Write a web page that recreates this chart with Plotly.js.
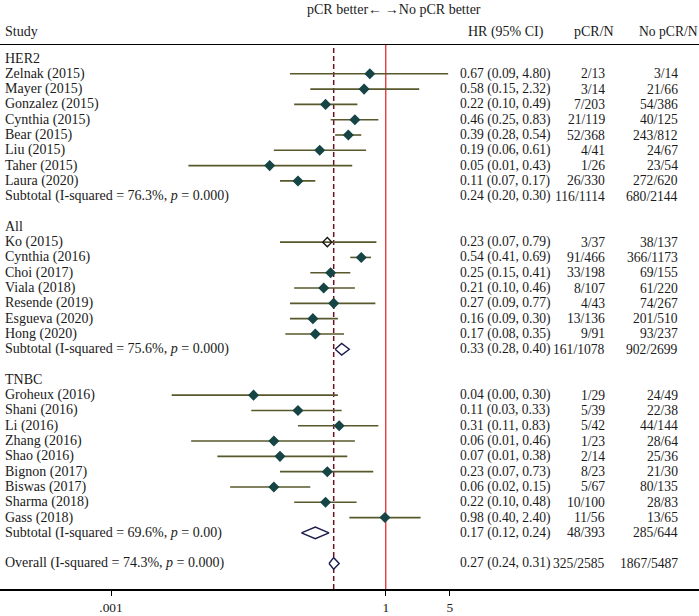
<!DOCTYPE html>
<html>
<head>
<meta charset="utf-8">
<script src="https://cdn.plot.ly/plotly-3.0.1.min.js"></script>
<style>
  html, body { margin: 0; padding: 0; background: #fff; }
  #plot { width: 699px; height: 616px; }
</style>
</head>
<body>
<div id="plot"></div>
<script>
const groupNames = ["HER2", "All", "TNBC"];
const groupSizes = [8, 7, 9];

const studyNames = [
  "Zelnak (2015)", "Mayer (2015)", "Gonzalez (2015)", "Cynthia (2015)", "Bear (2015)",
  "Liu (2015)", "Taher (2015)", "Laura (2020)",
  "Ko (2015)", "Cynthia (2016)", "Choi (2017)", "Viala (2018)", "Resende (2019)",
  "Esgueva (2020)", "Hong (2020)",
  "Groheux (2016)", "Shani (2016)", "Li (2016)", "Zhang (2016)", "Shao (2016)",
  "Bignon (2017)", "Biswas (2017)", "Sharma (2018)", "Gass (2018)"
];
const hr = [0.67, 0.58, 0.22, 0.46, 0.39, 0.19, 0.054, 0.11,
            0.23, 0.54, 0.25, 0.21, 0.27, 0.16, 0.17,
            0.036, 0.11, 0.31, 0.06, 0.07, 0.23, 0.06, 0.22, 0.98];
const ciLow = [0.09, 0.15, 0.10, 0.25, 0.28, 0.06, 0.007, 0.07,
               0.07, 0.41, 0.15, 0.10, 0.09, 0.09, 0.08,
               0.0046, 0.034, 0.11, 0.0075, 0.0145, 0.07, 0.02, 0.10, 0.40];
const ciHigh = [4.80, 2.32, 0.49, 0.83, 0.54, 0.61, 0.43, 0.17,
                0.79, 0.69, 0.41, 0.46, 0.77, 0.30, 0.35,
                0.30, 0.33, 0.83, 0.46, 0.38, 0.73, 0.15, 0.48, 2.40];
const pcrN = ["2/13", "3/14", "7/203", "21/119", "52/368", "4/41", "1/26", "26/330",
              "3/37", "91/466", "33/198", "8/107", "4/43", "13/136", "9/91",
              "1/29", "5/39", "5/42", "1/23", "2/14", "8/23", "5/67", "10/100", "11/56"];
const noPcrN = ["3/14", "21/66", "54/386", "40/125", "243/812", "24/67", "23/54", "272/620",
                "38/137", "366/1173", "69/155", "61/220", "74/267", "201/510", "93/237",
                "24/49", "22/38", "44/144", "28/64", "25/36", "21/30", "80/135", "28/83", "13/65"];
const hollowStudy = "Ko (2015)";

const subtotalLabels = [
  "Subtotal (I-squared = 76.3%, <i>p</i> = 0.000)",
  "Subtotal (I-squared = 75.6%, <i>p</i> = 0.000)",
  "Subtotal (I-squared = 69.6%, <i>p</i> = 0.00)"
];
const subHR = [0.24, 0.33, 0.17];
const subLow = [0.20, 0.28, 0.12];
const subHigh = [0.30, 0.40, 0.24];
const subPcrN = ["116/1114", "161/1078", "48/393"];
const subNoPcrN = ["680/2144", "902/2699", "285/644"];
// the HER2 subtotal has no diamond in the source figure
const subDiamond = [false, true, true];

const overallLabel = "Overall (I-squared = 74.3%, <i>p</i> = 0.000)";
const overallHR = 0.27, overallLow = 0.24, overallHigh = 0.31;
const overallPcrN = "325/2585", overallNoPcrN = "1867/5487";

const W = 699;
const FONT = "Liberation Serif, Times New Roman, serif";
const FS = 14;        // study labels and headers
const FS_NUM = 13.6;  // count columns
const TXT = "#1a1a1a";
const fmt = v => v.toFixed(2);
const hrText = (e, l, h) => `${fmt(e)} (${fmt(l)}, ${fmt(h)})`;

// column x positions in pixels
const colStudy = 3, colHR = 458, colPcr = 607, colNo = 680;

const annotations = [];
function rowText(y, label, hrStr, p, np) {
  const base = { yref: "y", y: y, xref: "paper", showarrow: false, yanchor: "middle" };
  const f = { family: FONT, size: FS, color: TXT };
  const fn = { family: FONT, size: FS_NUM, color: TXT };
  annotations.push({ ...base, x: colStudy / W, xanchor: "left", text: label, font: f });
  if (hrStr) annotations.push({ ...base, x: colHR / W, xanchor: "left", text: hrStr, font: fn });
  if (p) annotations.push({ ...base, x: colPcr / W, xanchor: "right", text: p, font: fn });
  if (np) annotations.push({ ...base, x: colNo / W, xanchor: "right", text: np, font: fn });
}

const ciX = [], ciY = [];
const mX = [], mY = [], mSym = [], mCol = [];
const diamondTraces = [];

function diamond(y, e, l, h) {
  const hh = 0.38;
  diamondTraces.push({
    x: [l, e, h, e, l], y: [y, y - hh, y, y + hh, y],
    type: "scatter", mode: "lines", fill: "toself", fillcolor: "#ffffff",
    line: { color: "#1b1b4d", width: 1.4 }, hoverinfo: "skip", showlegend: false
  });
}

let row = 0, s = 0;
groupNames.forEach((g, gi) => {
  rowText(row, g);
  row++;
  for (let k = 0; k < groupSizes[gi]; k++, s++, row++) {
    rowText(row, studyNames[s], hrText(hr[s], ciLow[s], ciHigh[s]), pcrN[s], noPcrN[s]);
    ciX.push(ciLow[s], ciHigh[s], null);
    ciY.push(row, row, null);
    mX.push(hr[s]); mY.push(row);
    const hollow = studyNames[s] === hollowStudy;
    mSym.push(hollow ? "diamond-open" : "diamond");
    mCol.push(hollow ? "#111111" : "#174545");
  }
  rowText(row, subtotalLabels[gi], hrText(subHR[gi], subLow[gi], subHigh[gi]), subPcrN[gi], subNoPcrN[gi]);
  if (subDiamond[gi]) diamond(row, subHR[gi], subLow[gi], subHigh[gi]);
  row += 2;
});
rowText(row, overallLabel, hrText(overallHR, overallLow, overallHigh), overallPcrN, overallNoPcrN);
diamond(row, overallHR, overallLow, overallHigh);
const lastRow = row;

// header texts above the top rule
const head = { xref: "paper", yref: "paper", showarrow: false, yanchor: "middle",
               font: { family: FONT, size: FS, color: TXT } };
const plotH = 616 - 45 - 27;
const py = px => 1 + (45 - px) / plotH;
annotations.push({ ...head, x: 394 / W, y: py(9), xanchor: "center",
                   text: "pCR better\u2190\u2009\u2192No pCR better" });
annotations.push({ ...head, x: colStudy / W, y: py(32), xanchor: "left", text: "Study" });
annotations.push({ ...head, x: 466 / W, y: py(32), xanchor: "left", text: "HR (95% CI)" });
annotations.push({ ...head, x: 594 / W, y: py(32), xanchor: "center", text: "pCR/N" });
annotations.push({ ...head, x: 637 / W, y: py(32), xanchor: "left", text: "No pCR/N",
                   font: { family: FONT, size: 13.6, color: TXT } });

const traces = [
  { x: ciX, y: ciY, type: "scatter", mode: "lines", connectgaps: false,
    line: { color: "#58582c", width: 1.6 }, hoverinfo: "skip", showlegend: false },
  ...diamondTraces,
  { x: mX, y: mY, type: "scatter", mode: "markers", showlegend: false,
    marker: { symbol: mSym, color: mCol, size: 7, line: { width: 1.4, color: mCol } } }
];

const layout = {
  width: W, height: 616,
  margin: { l: 0, r: 0, t: 45, b: 27 },
  paper_bgcolor: "#fff", plot_bgcolor: "#fff",
  font: { family: FONT, size: FS, color: TXT },
  showlegend: false,
  xaxis: {
    type: "log", range: [-4.212, 3.42],
    tickvals: [0.001, 1, 5], ticktext: [".001", "1", "5"],
    ticks: "outside", ticklen: 5, tickcolor: "#000", tickwidth: 1,
    showline: true, linecolor: "#000", linewidth: 1.5, mirror: true,
    showgrid: false, zeroline: false,
    tickfont: { family: FONT, size: 13.4, color: TXT }
  },
  yaxis: {
    range: [lastRow + 1.667, -0.882],
    showgrid: false, zeroline: false, showticklabels: false, showline: false, ticks: ""
  },
  shapes: [
    { type: "line", xref: "x", yref: "paper", x0: 1, x1: 1, y0: 0, y1: 1,
      line: { color: "#e31a1c", width: 1.2 }, layer: "below" },
    { type: "line", xref: "x", yref: "paper", x0: overallHR, x1: overallHR, y0: 0, y1: 1,
      line: { color: "#6b1020", width: 1.5, dash: "5px,3px" }, layer: "below" }
  ],
  annotations: annotations
};

Plotly.newPlot("plot", traces, layout, { displayModeBar: false, staticPlot: true });
</script>
</body>
</html>
